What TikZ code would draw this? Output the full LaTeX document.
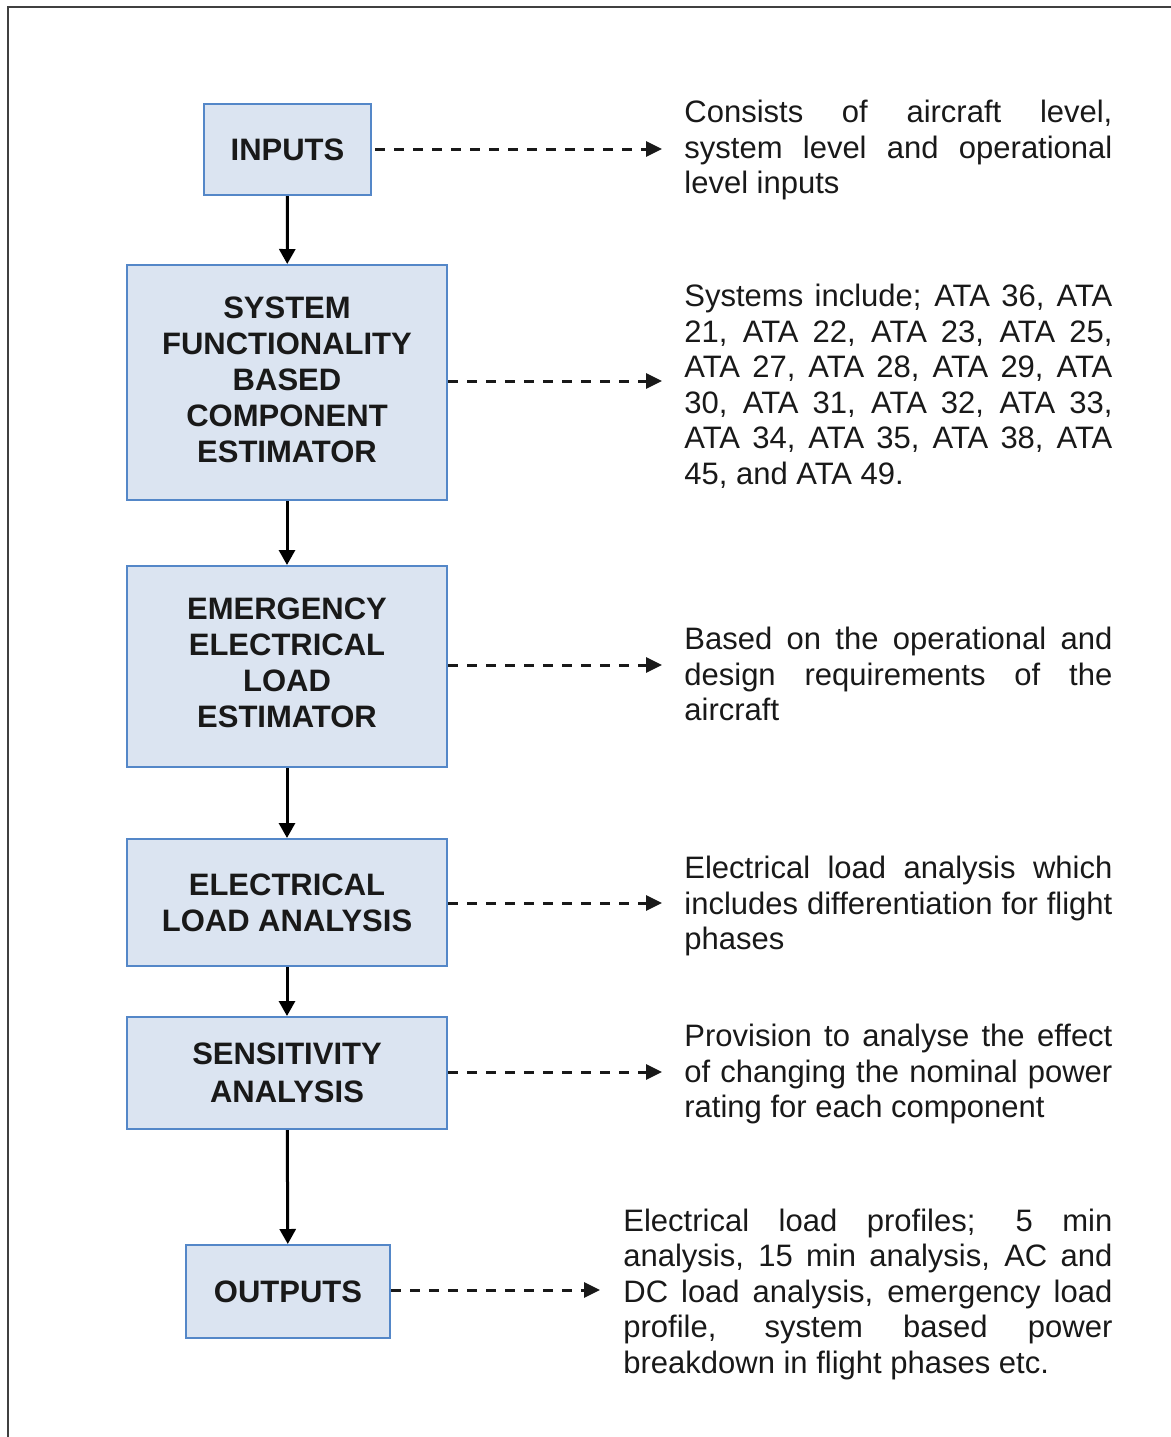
\documentclass[tikz,border=0pt]{standalone}
\usepackage{fontspec}
\setmainfont{Liberation Sans}
\usetikzlibrary{arrows.meta}
\definecolor{boxfill}{RGB}{219,228,241}
\definecolor{boxline}{RGB}{84,135,200}
\definecolor{txt}{RGB}{25,25,25}
\newcommand\JL[2]{\makebox[#1][s]{#2}\\}
\tikzset{
  flowbox/.style={draw=boxline, fill=boxfill, line width=1pt, inner sep=0pt,
    align=center, text=txt, font=\bfseries\fontsize{15.5pt}{18pt}\selectfont},
  note/.style={anchor=west, inner sep=0pt, align=left, text=txt,
    font=\fontsize{15.5pt}{17.75pt}\selectfont},
  flowarrow/.style={line width=1.5pt, -{Triangle[length=7.5pt,width=8pt]}},
  notearrow/.style={line width=1.5pt, draw=txt, dash pattern=on 5pt off 4.5pt,
    -{Triangle[length=8pt,width=7.5pt]}}
}
\begin{document}
\begin{tikzpicture}[x=0.5pt,y=-0.5pt]
\useasboundingbox (0,0) rectangle (1171,1437);
\draw[line width=1.1pt, draw=black!75] (8,1437) -- (8,7) -- (1171,7);

\node[flowbox, minimum width=83.5pt, minimum height=45.5pt] (inp) at (287.5,149.5) {INPUTS};
\node[flowbox, minimum width=160pt, minimum height=117.5pt] (sfb) at (287,382.5)
  {SYSTEM\\FUNCTIONALITY\\BASED\\COMPONENT\\ESTIMATOR\rule[-3pt]{0pt}{0pt}};
\node[flowbox, minimum width=160pt, minimum height=100.5pt] (eele) at (287,666.5)
  {EMERGENCY\\ELECTRICAL\\LOAD\\ESTIMATOR\rule[-4pt]{0pt}{0pt}};
\node[flowbox, minimum width=160pt, minimum height=63.5pt] (ela) at (287,902.5)
  {ELECTRICAL\\LOAD ANALYSIS};
\node[flowbox, minimum width=160pt, minimum height=56pt] (sa) at (287,1073)
  {SENSITIVITY\\[1pt]ANALYSIS};
\node[flowbox, minimum width=102pt, minimum height=46.5pt] (out) at (288,1291.5) {OUTPUTS};

\node[note] (n1) at (684,150) {\JL{214pt}{Consists of aircraft level,}\JL{214pt}{system level and operational}level inputs};
\node[note] (n2) at (684,386) {\JL{214pt}{Systems include; ATA 36, ATA}\JL{214pt}{21, ATA 22, ATA 23, ATA 25,}\JL{214pt}{ATA 27, ATA 28, ATA 29, ATA}\JL{214pt}{30, ATA 31, ATA 32, ATA 33,}\JL{214pt}{ATA 34, ATA 35, ATA 38, ATA}45, and ATA 49.};
\node[note] (n3) at (684,674) {\JL{214pt}{Based on the operational and}\JL{214pt}{design requirements of the}aircraft};
\node[note] (n4) at (684,906) {\JL{214pt}{Electrical load analysis which}\JL{214pt}{includes differentiation for flight}phases};
\node[note] (n5) at (684,1074) {\JL{214pt}{Provision to analyse the effect}\JL{214pt}{of changing the nominal power}rating for each component};
\node[note] (n6) at (623,1294) {\JL{244.5pt}{Electrical load profiles; 5 min}\JL{244.5pt}{analysis, 15 min analysis, AC and}\JL{244.5pt}{DC load analysis, emergency load}\JL{244.5pt}{profile, system based power}breakdown in flight phases etc.};

\draw[flowarrow] (inp) -- (sfb);
\draw[flowarrow] (sfb) -- (eele);
\draw[flowarrow] (eele) -- (ela);
\draw[flowarrow] (ela) -- (sa);
\draw[flowarrow] (sa) -- (out);

\coordinate (t1) at (662,149);
\coordinate (t2) at (662,381);
\coordinate (t3) at (662,665);
\coordinate (t4) at (662,903);
\coordinate (t5) at (662,1072);
\coordinate (t6) at (600,1290);
\draw[notearrow] (inp.east |- t1) ++(3,0) -- (t1);
\draw[notearrow] (sfb.east |- t2) -- (t2);
\draw[notearrow] (eele.east |- t3) -- (t3);
\draw[notearrow] (ela.east |- t4) -- (t4);
\draw[notearrow] (sa.east |- t5) -- (t5);
\draw[notearrow] (out.east |- t6) -- (t6);
\end{tikzpicture}
\end{document}
